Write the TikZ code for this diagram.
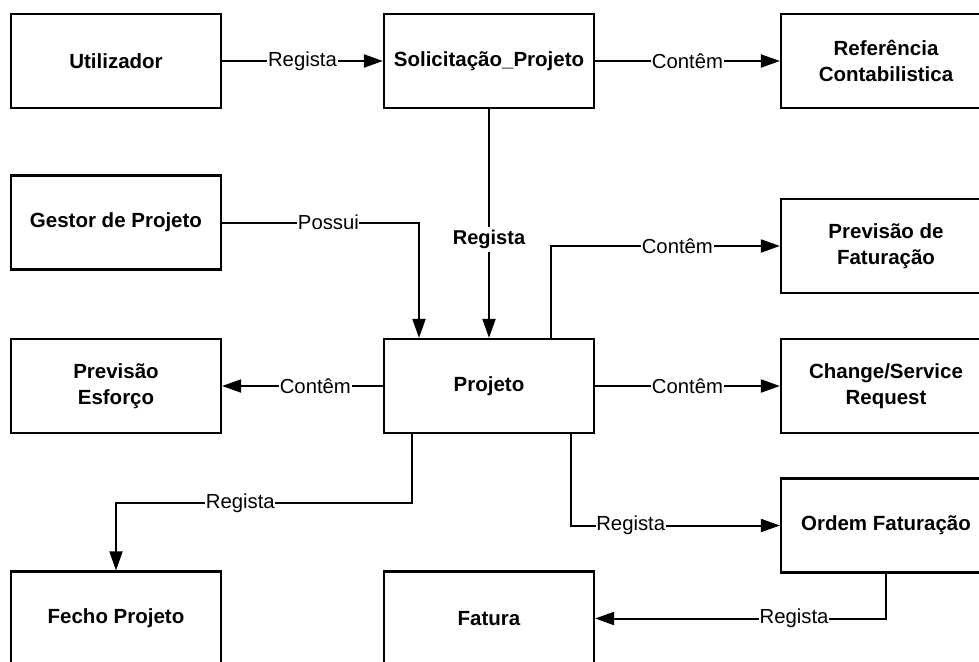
\documentclass[tikz,border=0pt]{standalone}
\usepackage{fontspec}
\setmainfont{Liberation Sans}
\usetikzlibrary{arrows.meta}
\begin{document}
\begin{tikzpicture}[x=1pt,y=-1pt,
  entity/.style={draw, line width=2.2pt, minimum width=210pt, minimum height=94pt,
    align=center, inner sep=0pt, font=\fontsize{20.5}{26}\selectfont\bfseries},
  link/.style={line width=2pt, -{Triangle[length=19pt,width=13pt]}},
  lbl/.style={fill=white, inner sep=0.6pt, font=\fontsize{20.3}{24}\selectfont},
  blbl/.style={lbl, font=\fontsize{20}{24}\selectfont\bfseries, inner sep=3pt}]
\clip (0,0) rectangle (979,661);
\fill[white] (0,0) rectangle (979,661);

% entities
\node[entity] (u)  at (116,61)    {Utilizador};
\node[entity] (s)  at (489,61)    {Solicitação\_Projeto};
\node[entity] (r)  at (886,61)    {Referência\\Contabilistica};
\node[entity] (g)  at (116,222.5) {Gestor de Projeto};
\node[entity] (pf) at (886,246)   {Previsão de\\Faturação};
\node[entity] (pe) at (116,386)   {Previsão\\Esforço};
\node[entity] (p)  at (489,386)   {Projeto};
\node[entity] (c)  at (886,386)   {Change/Service\\Request};
\node[entity] (o)  at (886,525.5) {Ordem Faturação};
\node[entity] (fp) at (116,618.5) {Fecho Projeto};
\node[entity] (f)  at (489,618.5) {Fatura};

% relations
\draw[link] (u.east) -- node[lbl]{Regista} (s.west);
\draw[link] (s.east) -- node[lbl]{Contêm} (r.west);
\draw[link] (s.south) -- node[blbl,pos=0.57]{Regista} (p.north);
\draw[link] (g.east) -| node[lbl,pos=0.27]{Possui} ([xshift=-70pt]p.north);
\draw[link] ([xshift=62pt]p.north) |- node[lbl,pos=0.776]{Contêm} (pf.west);
\draw[link] (p.west) -- node[lbl,pos=0.42]{Contêm} (pe.east);
\draw[link] (p.east) -- node[lbl]{Contêm} (c.west);
\draw[link] ([xshift=-77pt]p.south) -- ([xshift=-77pt,yshift=-69pt]p.south)
  -| node[lbl,pos=0.29]{Regista} (fp.north);
\draw[link] ([xshift=82pt]p.south) |- node[lbl,pos=0.643]{Regista} (o.west);
\draw[link] (o.south) |- node[lbl,pos=0.658]{Regista} (f.east);
\end{tikzpicture}
\end{document}
